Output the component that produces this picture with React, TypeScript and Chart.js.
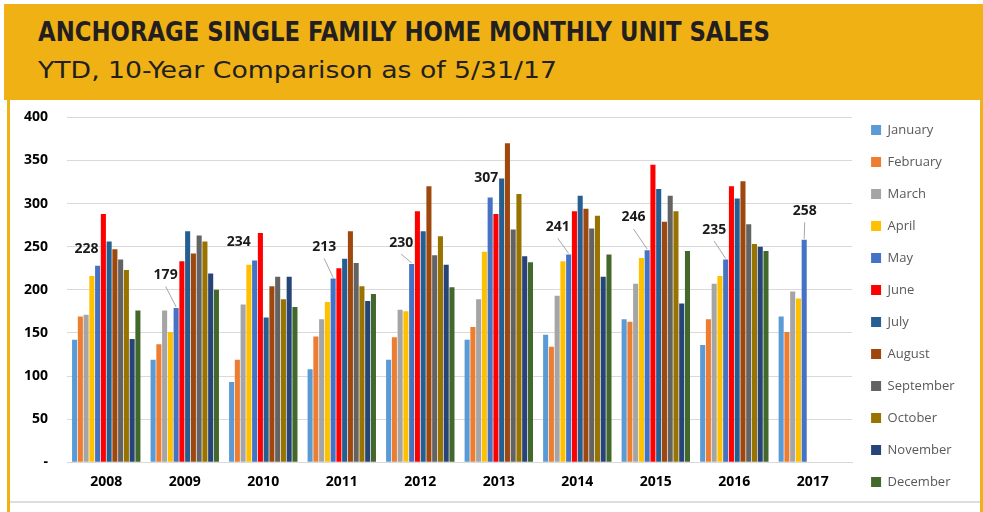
import React, { useEffect, useLayoutEffect, useRef } from 'react';
import { Chart, registerables } from 'chart.js';

Chart.register(...registerables);

const years = ['2008', '2009', '2010', '2011', '2012', '2013', '2014', '2015', '2016', '2017'];
const months = ['January', 'February', 'March', 'April', 'May', 'June', 'July', 'August', 'September', 'October', 'November', 'December'];

const jan = [142, 119, 93, 108, 119, 142, 148, 166, 136, 169];
const feb = [169, 137, 119, 146, 145, 157, 134, 163, 166, 151];
const mar = [171, 176, 183, 166, 177, 189, 193, 207, 207, 198];
const apr = [216, 151, 229, 186, 175, 244, 233, 237, 216, 190];
const may = [228, 179, 234, 213, 230, 307, 241, 246, 235, 258];
const jun = [288, 233, 266, 225, 291, 288, 291, 345, 320, null];
const jul = [256, 268, 168, 236, 268, 329, 309, 317, 306, null];
const aug = [247, 242, 204, 268, 320, 370, 294, 279, 326, null];
const sep = [235, 263, 215, 231, 240, 270, 271, 309, 276, null];
const oct = [223, 256, 189, 204, 262, 311, 286, 291, 253, null];
const nov = [143, 219, 215, 187, 229, 239, 215, 184, 250, null];
const dec = [176, 200, 180, 195, 203, 232, 241, 245, 245, null];

const seriesValues = [jan, feb, mar, apr, may, jun, jul, aug, sep, oct, nov, dec];
const seriesColors = ['#5B9BD5', '#ED7D31', '#A5A5A5', '#FFC000', '#4472C4', '#FF0000', '#255E91', '#9E480E', '#636363', '#997300', '#264478', '#43682B'];

const yTickValues = [0, 50, 100, 150, 200, 250, 300, 350, 400];
const yTickLabels = ['-', '50', '100', '150', '200', '250', '300', '350', '400'];

// label placement for the May data labels (pixel offsets from bar top)
const labelOffsets = [[-11, -17], [-10.5, -33], [-16, -18.6], [-9, -31.7], [-10.5, -21.3], [-4, -19.4], [-11, -27.7], [-13.7, -32.7], [-11.5, -30], [0.5, -29]];
const leaderLines = [false, true, false, true, true, false, true, true, true, true];

const TITLE = 'ANCHORAGE SINGLE FAMILY HOME MONTHLY UNIT SALES';
const SUBTITLE = 'YTD, 10-Year Comparison as of 5/31/17';

const mayLabelPlugin = {
  id: 'mayLabels',
  afterDatasetsDraw(chart: any) {
    const idx = 4;
    const meta = chart.getDatasetMeta(idx);
    const ctx = chart.ctx;
    ctx.save();
    meta.data.forEach((bar: any, i: number) => {
      const v = chart.data.datasets[idx].data[i];
      if (v == null) return;
      const [dx, dy] = labelOffsets[i];
      const lx = bar.x + dx;
      const ly = bar.y + dy;
      if (leaderLines[i]) {
        ctx.strokeStyle = '#A6A6A6';
        ctx.lineWidth = 1;
        ctx.beginPath();
        ctx.moveTo(lx, ly + 11.5);
        ctx.lineTo(bar.x, bar.y - 1);
        ctx.stroke();
      }
      ctx.font = 'bold 14px "Open Sans"';
      ctx.fillStyle = '#1a1a1a';
      ctx.textAlign = 'center';
      ctx.textBaseline = 'middle';
      ctx.fillText(String(v), lx, ly);
    });
    ctx.restore();
  },
};

function FitText({ text, width, style }: { text: string; width: number; style: any }) {
  const ref = useRef<HTMLSpanElement>(null);
  useLayoutEffect(() => {
    const el = ref.current;
    if (!el) return;
    el.style.transform = 'none';
    const w = el.getBoundingClientRect().width;
    if (w > 0) el.style.transform = `scaleX(${width / w})`;
  }, [text, width]);
  return (
    <span ref={ref} style={{ position: 'absolute', whiteSpace: 'nowrap', transformOrigin: '0 0', lineHeight: 1, ...style }}>
      {text}
    </span>
  );
}

export default function App() {
  const canvasRef = useRef<HTMLCanvasElement>(null);

  useEffect(() => {
    document.body.style.margin = '0';
    const canvas = canvasRef.current;
    if (!canvas) return;
    const chart = new Chart(canvas, {
      type: 'bar',
      data: {
        labels: years,
        datasets: months.map((m, i) => ({
          label: m,
          data: seriesValues[i],
          backgroundColor: seriesColors[i],
          borderWidth: 0,
          categoryPercentage: 0.88,
          barPercentage: 0.88,
        })),
      },
      options: {
        animation: false,
        responsive: false,
        maintainAspectRatio: false,
        layout: { padding: { left: 0, right: 14.5, top: 0, bottom: 0 } },
        plugins: {
          title: { display: true, text: '', font: { size: 10 }, padding: { top: 0, bottom: 5.3 } },
          subtitle: { display: true, position: 'bottom', text: '', font: { size: 8 }, padding: { top: 0, bottom: 0.3 } },
          legend: {
            position: 'right',
            labels: {
              boxWidth: 10,
              boxHeight: 10,
              padding: 19,
              color: '#595959',
              font: { family: '"Open Sans"', size: 13 },
            },
          },
          tooltip: { enabled: false },
        },
        scales: {
          x: {
            grid: { display: false, drawTicks: false },
            border: { display: true, color: '#D9D9D9', width: 1 },
            ticks: { color: '#000', padding: 11.5, font: { family: '"Open Sans"', size: 14, weight: 'bold' } },
          },
          y: {
            min: 0,
            max: 400,
            afterFit: (scale: any) => {
              scale.width = 57;
              scale.paddingTop = 8;
              scale.paddingBottom = 8;
            },
            afterBuildTicks: (scale: any) => { scale.ticks = yTickValues.map((v) => ({ value: v })); },
            grid: { color: '#D9D9D9', lineWidth: 1, drawTicks: false },
            border: { display: false },
            ticks: {
              color: '#000',
              padding: 19,
              font: { family: '"Open Sans"', size: 14, weight: 'bold' },
              callback: (v: any) => yTickLabels[yTickValues.indexOf(Number(v))] ?? String(v),
            },
          },
        },
      },
      plugins: [mayLabelPlugin],
    } as any);
    return () => chart.destroy();
  }, []);

  return (
    <div style={{ position: 'fixed', left: 0, top: 0, width: 983, height: 512, background: '#fff', overflow: 'hidden' }}>
      <div style={{ position: 'absolute', left: 4, top: 4, width: 979, height: 96, background: '#EFB114' }} />
      <div style={{ position: 'absolute', left: 7, top: 100, width: 3, height: 412, background: '#EFB114' }} />
      <div style={{ position: 'absolute', left: 980, top: 100, width: 3, height: 412, background: '#EFB114' }} />
      <div style={{ position: 'absolute', left: 10, top: 501, width: 970, height: 2, background: '#DDDDDD' }} />
      <FitText text={TITLE} width={732} style={{ left: 38, top: 20, fontFamily: '"Liberation Sans Narrow", "DejaVu Sans Condensed", sans-serif', fontWeight: 'bold', fontSize: 25.7, color: '#231F20' }} />
      <FitText text={SUBTITLE} width={519} style={{ left: 38, top: 58.8, fontFamily: '"Liberation Sans Narrow", "DejaVu Sans Condensed", sans-serif', fontWeight: 'normal', fontSize: 23, color: '#231F20' }} />
      <div style={{ position: 'absolute', left: 10, top: 100, width: 969, height: 412 }}>
        <canvas ref={canvasRef} width={969} height={412} style={{ width: 969, height: 412, display: 'block' }} />
      </div>
    </div>
  );
}
